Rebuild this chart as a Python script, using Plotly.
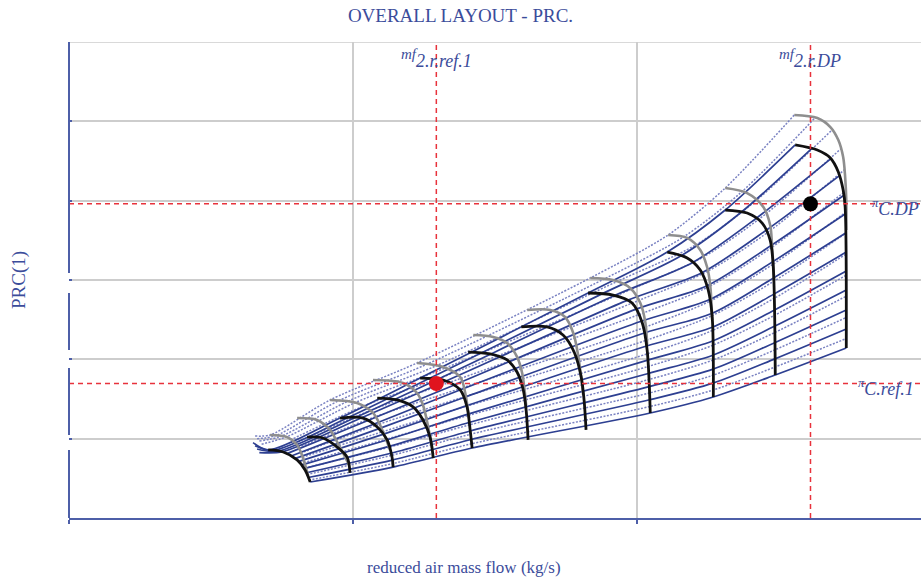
import plotly.graph_objects as go

# ---- axes -------------------------------------------------------------
x_range = [0, 29.99]      # reduced air mass flow (kg/s)
y_range = [0, 30]         # PRC (1)
x_grid_step = 10
y_grid_step = 5

# ---- reference / design points ---------------------------------------
ref_flow, ref_prc = 12.93, 8.48
dp_flow, dp_prc = 26.10, 19.80

# ---- constant corrected-speed lines, nominal map (black) -------------
speed_x = [
    [7.01, 7.54, 8.03, 8.31, 8.49],
    [8.38, 8.94, 9.44, 9.79, 9.89],
    [9.54, 10.35, 10.85, 11.20, 11.37, 11.41],
    [10.85, 11.55, 12.11, 12.46, 12.71, 12.82],
    [12.36, 13.17, 13.77, 14.01, 14.12, 14.19],
    [14.05, 14.82, 15.42, 15.77, 15.99, 16.09, 16.16],
    [15.92, 16.83, 17.39, 17.78, 18.03, 18.13, 18.20],
    [18.27, 19.15, 19.82, 20.18, 20.35, 20.46],
    [21.06, 21.76, 22.22, 22.50, 22.64, 22.68],
    [23.10, 23.87, 24.40, 24.68, 24.79, 24.86],
    [25.56, 26.34, 26.80, 27.08, 27.25, 27.32, 27.36],
]
speed_y = [
    [4.29, 4.16, 3.66, 3.03, 2.27],
    [5.10, 5.04, 4.47, 3.84, 2.84],
    [6.30, 6.30, 5.74, 4.92, 3.84, 3.21],
    [7.56, 7.44, 7.00, 6.18, 5.10, 3.78],
    [8.82, 8.70, 8.07, 7.00, 5.55, 4.41],
    [10.46, 10.34, 9.96, 9.20, 8.07, 6.81, 4.92],
    [12.04, 12.04, 11.53, 10.46, 8.89, 7.44, 5.55],
    [14.18, 14.05, 13.55, 12.29, 10.59, 6.62],
    [16.76, 16.39, 15.63, 14.37, 12.67, 7.63],
    [19.41, 19.22, 18.59, 17.52, 15.82, 9.01],
    [23.51, 23.19, 22.69, 21.81, 20.67, 19.60, 10.71],
]

# ---- constant corrected-speed lines, scaled map (grey) ----------------
scaled_speed_x = [
    [7.08, 7.68, 8.03, 8.20, 8.42],
    [8.03, 8.73, 9.19, 9.40, 9.86],
    [9.19, 10.14, 10.70, 10.95, 11.30],
    [10.70, 11.76, 12.25, 12.46, 12.78],
    [12.25, 13.17, 13.77, 13.94, 14.08],
    [14.23, 14.93, 15.42, 15.77, 15.95, 16.09],
    [16.13, 16.94, 17.46, 17.75, 17.92, 18.10],
    [18.35, 19.15, 19.75, 20.11, 20.29, 20.35],
    [21.09, 21.76, 22.22, 22.46, 22.57, 22.64],
    [23.10, 23.87, 24.44, 24.68, 24.75, 24.82],
    [25.53, 26.34, 26.80, 27.08, 27.25, 27.32, 27.36, 27.36],
]
scaled_speed_y = [
    [5.23, 5.10, 4.60, 3.97, 2.65],
    [6.30, 6.18, 5.55, 4.92, 3.34],
    [7.44, 7.25, 6.62, 5.86, 4.29],
    [8.70, 8.51, 7.88, 7.12, 4.41],
    [9.77, 9.52, 8.89, 7.94, 6.30],
    [11.53, 11.41, 11.03, 10.15, 9.14, 7.12],
    [13.11, 13.11, 12.67, 11.66, 10.27, 7.75],
    [15.13, 15.00, 14.50, 13.55, 12.29, 10.90],
    [17.84, 17.65, 16.89, 15.82, 14.68, 12.48],
    [20.80, 20.48, 19.60, 18.47, 17.08, 15.00],
    [25.40, 25.21, 24.64, 23.82, 22.75, 21.49, 20.04, 18.15],
]

# ---- beta lines: one row per speed line (low-speed stub, n1, n3, n5, n8,
#      n9, n10, n11), one column per beta value (surge -> choke) ---------
beta_x = [
    [6.48, 6.55, 6.62, 6.70, 7.65, 7.80, 7.95, 8.07, 8.17, 8.27, 8.36, 8.42, 8.49],
    [7.01, 7.17, 7.34, 7.51, 7.65, 7.80, 7.95, 8.07, 8.17, 8.27, 8.36, 8.42, 8.49],
    [9.54, 9.79, 10.04, 10.28, 10.50, 10.70, 10.89, 11.05, 11.19, 11.26, 11.33, 11.38, 11.41],
    [12.36, 12.66, 12.96, 13.25, 13.50, 13.76, 13.88, 14.00, 14.05, 14.08, 14.12, 14.16, 14.19],
    [18.27, 18.74, 19.20, 19.63, 19.94, 20.14, 20.25, 20.33, 20.37, 20.39, 20.42, 20.44, 20.46],
    [21.06, 21.53, 21.94, 22.26, 22.44, 22.55, 22.62, 22.64, 22.65, 22.66, 22.67, 22.67, 22.68],
    [23.10, 23.66, 24.17, 24.53, 24.70, 24.77, 24.80, 24.81, 24.82, 24.83, 24.84, 24.85, 24.86],
    [25.56, 26.13, 26.81, 27.11, 27.29, 27.32, 27.34, 27.36, 27.36, 27.36, 27.36, 27.36, 27.36],
]
beta_y = [
    [4.75, 4.55, 4.35, 4.12, 4.04, 3.89, 3.74, 3.55, 3.33, 3.11, 2.85, 2.55, 2.27],
    [4.29, 4.25, 4.20, 4.17, 4.04, 3.89, 3.74, 3.55, 3.33, 3.11, 2.85, 2.55, 2.27],
    [6.30, 6.30, 6.30, 6.30, 6.13, 5.89, 5.62, 5.27, 4.92, 4.51, 4.08, 3.65, 3.21],
    [8.82, 8.78, 8.73, 8.62, 8.34, 8.07, 7.58, 7.08, 6.55, 6.02, 5.48, 4.95, 4.41],
    [14.18, 14.11, 14.02, 13.70, 13.15, 12.40, 11.66, 10.84, 9.95, 9.11, 8.28, 7.45, 6.62],
    [16.76, 16.51, 16.09, 15.44, 14.62, 13.77, 12.89, 12.02, 11.16, 10.26, 9.38, 8.50, 7.63],
    [19.41, 19.27, 18.86, 18.12, 17.16, 16.15, 15.13, 14.11, 13.10, 12.08, 11.05, 10.03, 9.01],
    [23.51, 23.26, 22.63, 21.56, 20.36, 19.16, 17.96, 16.76, 15.57, 14.37, 13.11, 11.91, 10.71],
]
scaled_beta_x = [
    [6.55, 6.62, 6.70, 6.78, 7.80, 7.95, 8.07, 8.15, 8.22, 8.27, 8.31, 8.38, 8.45],
    [7.08, 7.27, 7.46, 7.65, 7.80, 7.95, 8.07, 8.15, 8.22, 8.27, 8.31, 8.38, 8.45],
    [9.19, 9.48, 9.77, 10.06, 10.33, 10.58, 10.78, 10.93, 11.06, 11.18, 11.27, 11.36, 11.40],
    [12.25, 12.58, 12.92, 13.24, 13.52, 13.79, 13.89, 13.96, 14.01, 14.05, 14.10, 14.14, 14.18],
    [18.35, 18.82, 19.27, 19.77, 20.05, 20.21, 20.30, 20.35, 20.36, 20.37, 20.40, 20.43, 20.46],
    [21.09, 21.61, 22.04, 22.32, 22.49, 22.57, 22.60, 22.64, 22.65, 22.65, 22.66, 22.67, 22.68],
    [23.10, 23.68, 24.18, 24.53, 24.70, 24.75, 24.78, 24.80, 24.81, 24.82, 24.83, 24.85, 24.86],
    [25.53, 26.26, 26.86, 27.17, 27.30, 27.35, 27.36, 27.36, 27.36, 27.36, 27.36, 27.36, 27.36],
]
scaled_beta_y = [
    [5.17, 5.00, 4.85, 4.65, 4.92, 4.71, 4.45, 4.09, 3.83, 3.49, 3.15, 2.74, 2.39],
    [5.23, 5.19, 5.15, 5.11, 4.92, 4.71, 4.45, 4.09, 3.83, 3.49, 3.15, 2.74, 2.39],
    [7.44, 7.38, 7.32, 7.26, 7.03, 6.76, 6.38, 5.92, 5.45, 4.97, 4.46, 3.95, 3.43],
    [9.77, 9.68, 9.59, 9.45, 9.14, 8.80, 8.23, 7.66, 7.06, 6.46, 5.87, 5.28, 4.68],
    [15.13, 15.05, 14.89, 14.40, 13.71, 12.92, 12.04, 11.22, 10.35, 9.54, 8.72, 7.88, 7.03],
    [17.84, 17.69, 17.19, 16.44, 15.56, 14.62, 13.70, 12.76, 11.82, 10.88, 9.95, 9.00, 8.07],
    [20.80, 20.56, 20.00, 19.17, 18.14, 17.07, 15.99, 14.91, 13.83, 12.76, 11.68, 10.60, 9.52],
    [25.40, 25.22, 24.46, 23.27, 21.96, 20.63, 19.30, 17.97, 16.64, 15.31, 13.98, 12.64, 11.31],
]

# left-axis line pieces (PRC values)
axis_pieces = [(-0.2, 4.29), (5.23, 9.45), (10.59, 14.18), (15.44, 30)]

SERIF = "Liberation Serif, Times New Roman, DejaVu Serif, serif"
TEXT = "#3b4c9b"
AXIS = "#4d5fa8"
RED = "#e8323c"

fig = go.Figure()


def add_beta_family(xs, ys, color, width, dash):
    n_beta = len(xs[0])
    for j in range(n_beta):
        fig.add_trace(go.Scatter(
            x=[row[j] for row in xs], y=[row[j] for row in ys],
            mode="lines", line=dict(color=color, width=width, dash=dash,
                                    shape="spline", smoothing=0.8),
            hoverinfo="skip"))


def add_speed_family(xs, ys, color, width):
    for lx, ly in zip(xs, ys):
        fig.add_trace(go.Scatter(
            x=lx, y=ly, mode="lines",
            line=dict(color=color, width=width, shape="spline", smoothing=0.9),
            hoverinfo="skip"))


add_beta_family(scaled_beta_x, scaled_beta_y, "#7a82c2", 1.5, "2px,1.5px")
add_beta_family(beta_x, beta_y, "#2d3f91", 1.7, "solid")
add_speed_family(scaled_speed_x, scaled_speed_y, "#8e8e8e", 2.6)
add_speed_family(speed_x, speed_y, "#111111", 2.8)

# reference lines through the design point and the reference point
for fx in (ref_flow, dp_flow):
    fig.add_trace(go.Scatter(x=[fx, fx], y=y_range, mode="lines",
                             line=dict(color=RED, width=1.5, dash="5px,4px"),
                             hoverinfo="skip"))
for py in (ref_prc, dp_prc):
    fig.add_trace(go.Scatter(x=[0, 30], y=[py, py], mode="lines",
                             line=dict(color=RED, width=1.5, dash="5px,4px"),
                             hoverinfo="skip"))

fig.add_trace(go.Scatter(x=[ref_flow], y=[ref_prc], mode="markers",
                         marker=dict(color="#e0141e", size=15), hoverinfo="skip"))
fig.add_trace(go.Scatter(x=[dp_flow], y=[dp_prc], mode="markers",
                         marker=dict(color="#000000", size=15), hoverinfo="skip"))

label_font = dict(family=SERIF, size=18, color=TEXT)
MF = '<sup><span style="font-size:15px">mf</span></sup>'
annotations = [
    dict(x=ref_flow, y=0.966, xref="x", yref="paper",
         text=f"<i>{MF}2.r.ref.1</i>", showarrow=False,
         xanchor="center", yanchor="middle", font=label_font),
    dict(x=dp_flow, y=0.966, xref="x", yref="paper",
         text=f"<i>{MF}2.r.DP</i>", showarrow=False,
         xanchor="center", yanchor="middle", font=label_font),
    dict(x=1, y=dp_prc, xref="paper", yref="y",
         text="<i><sup>π</sup>C.DP</i>", showarrow=False,
         xanchor="right", yanchor="middle", yshift=-4, font=label_font),
    dict(x=1, y=ref_prc, xref="paper", yref="y",
         text="<i><sup>π</sup>C.ref.1</i>", showarrow=False,
         xanchor="right", yanchor="middle", xshift=-5, yshift=-4,
         font=label_font),
    dict(x=0.4636, y=0, xref="paper", yref="paper", yshift=-49,
         text="reduced air mass flow (kg/s)", showarrow=False,
         xanchor="center", yanchor="middle",
         font=dict(family=SERIF, size=17, color=TEXT)),
    dict(x=-0.0587, y=0.5, xref="paper", yref="paper",
         text="PRC(1)", showarrow=False, textangle=-90,
         xanchor="center", yanchor="middle",
         font=dict(family=SERIF, size=19, color=TEXT)),
]

shapes = [dict(type="line", xref="paper", yref="y", x0=0, x1=0, y0=a, y1=b,
               line=dict(color=AXIS, width=2)) for a, b in axis_pieces]
# upper frame gridline
shapes.append(dict(type="line", xref="paper", yref="y", x0=0, x1=1,
                   y0=y_range[1], y1=y_range[1], layer="below",
                   line=dict(color="#cdcdcd", width=1.5)))

fig.update_layout(
    width=921, height=580,
    margin=dict(l=69, r=0, t=42, b=62),
    paper_bgcolor="white", plot_bgcolor="white",
    showlegend=False,
    font=dict(family=SERIF, color=TEXT),
    title=dict(text="OVERALL LAYOUT - PRC.", x=0.5, xanchor="center",
               y=0.974, yanchor="middle",
               font=dict(family=SERIF, size=19, color=TEXT)),
    xaxis=dict(range=x_range, tick0=0, dtick=x_grid_step, showgrid=True,
               gridcolor="#cdcdcd", gridwidth=1.5, zeroline=False,
               showline=True, linecolor=AXIS, linewidth=2,
               ticks="outside", ticklen=4, tickcolor=AXIS, tickwidth=1.5,
               showticklabels=False),
    yaxis=dict(range=y_range, tick0=0, dtick=y_grid_step, showgrid=True,
               gridcolor="#cdcdcd", gridwidth=1.5, zeroline=False,
               showline=False, ticks="inside", ticklen=3, tickcolor=AXIS,
               tickwidth=1.5, showticklabels=False),
    annotations=annotations,
    shapes=shapes,
)

fig.write_html("out.html")
